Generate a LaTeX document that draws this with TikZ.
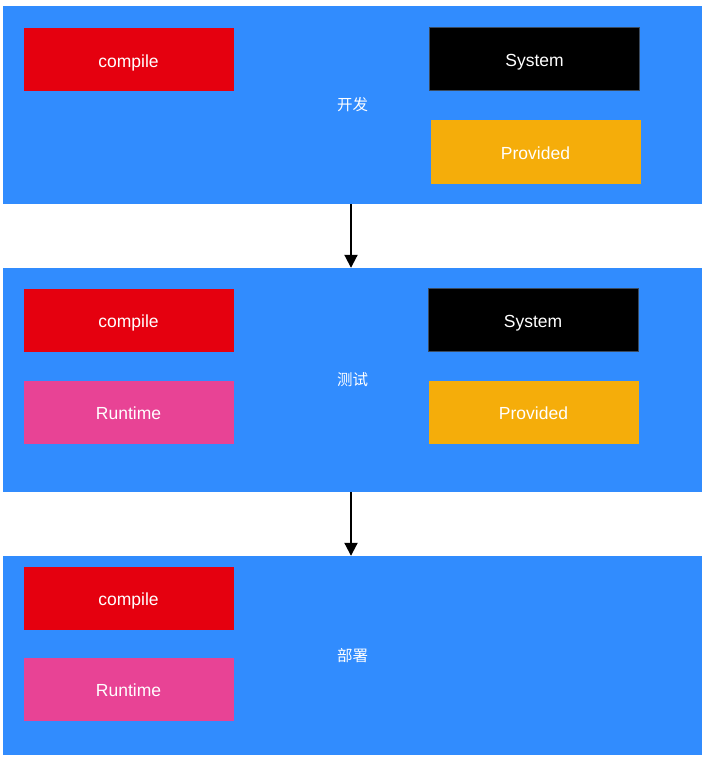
\documentclass[tikz,border=0pt]{standalone}
\usepackage{fontspec}
\setmainfont{Liberation Sans}
\newfontfamily\cjk{Noto Sans CJK SC}
\usetikzlibrary{arrows.meta}
\definecolor{bgblue}{HTML}{318CFE}
\definecolor{cred}{HTML}{E5000F}
\definecolor{corange}{HTML}{F5AD0A}
\definecolor{cpink}{HTML}{E84395}
\definecolor{sysborder}{HTML}{3A4A5E}
\begin{document}
\begin{tikzpicture}[x=1pt,y=-1pt,
  stage/.style={fill=bgblue,draw=none,minimum width=699pt,inner sep=0pt,text=white,font=\cjk\fontsize{15.5}{18}\selectfont},
  item/.style={draw=none,minimum width=210pt,minimum height=63pt,inner sep=0pt,text=white,text height=15pt,text depth=0pt,font=\fontsize{17.5}{20}\selectfont},
  compilebox/.style={item,fill=cred},
  systembox/.style={item,fill=black,draw=sysborder,line width=0.8pt},
  providedbox/.style={item,fill=corange},
  runtimebox/.style={item,fill=cpink},
  flow/.style={line width=2pt,-{Triangle[width=13pt,length=13pt]}}]
\useasboundingbox (0,0) rectangle (708,762);
% stages
\node[stage,minimum height=198pt] (dev) at (352.5,105) {开发};
\node[stage,minimum height=224pt] (test) at (352.5,380) {测试};
\node[stage,minimum height=199pt] (deploy) at (352.5,655.5) {部署};
% dev items
\node[compilebox] (c1) at (128.5,60) {compile};
\node[systembox] (s1) at (534.5,59) {System};
\node[providedbox] (p1) at (535.5,152) {Provided};
% test items
\node[compilebox] (c2) at (128.5,320) {compile};
\node[systembox] (s2) at (533,319.5) {System};
\node[runtimebox] (r2) at (128.5,412) {Runtime};
\node[providedbox] (p2) at (533.5,412) {Provided};
% deploy items
\node[compilebox] (c3) at (128.5,598) {compile};
\node[runtimebox] (r3) at (128.5,689) {Runtime};
% arrows
\draw[flow] ([xshift=-1.5pt]dev.south) -- ([xshift=-1.5pt]test.north);
\draw[flow] ([xshift=-1.5pt]test.south) -- ([xshift=-1.5pt]deploy.north);
\end{tikzpicture}
\end{document}
